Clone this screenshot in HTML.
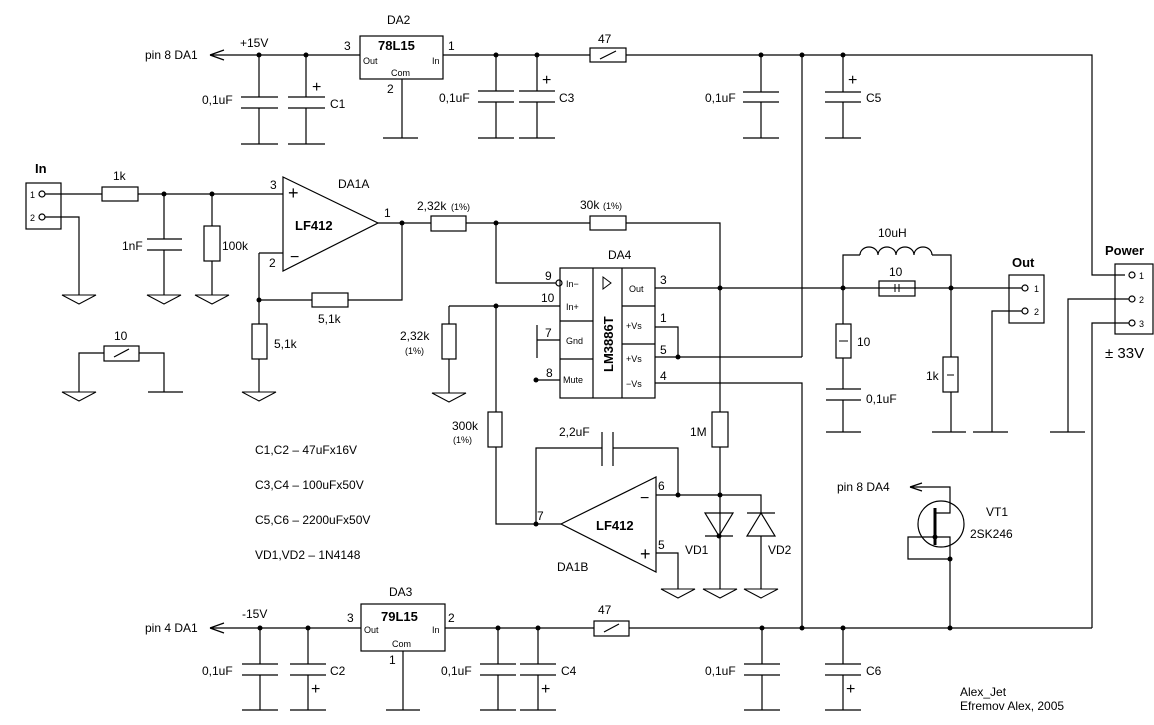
<!DOCTYPE html>
<html><head><meta charset="utf-8"><style>
html,body{margin:0;padding:0;background:#fff}
svg{display:block}
text{font-family:"Liberation Sans",sans-serif;font-size:12px;fill:#000}
.b{font-weight:bold;font-size:13px}
.s{font-size:9px}
</style></head><body>
<svg width="1154" height="725" viewBox="0 0 1154 725" xmlns="http://www.w3.org/2000/svg">
<defs>
<g id="gnd"><path d="M-17,0 H17 L0,9 Z" fill="none" stroke="#000"/></g>
<g id="dot"><circle r="2.5" fill="#000"/></g>
</defs>
<g stroke="#000" stroke-width="1.2" fill="none">
<path d="M210,55 H360 M443,55 H590 M626,55 H1092 V275 H1125"/>
<path d="M210,55 l14,-5 M210,55 l14,5"/>
<rect x="360" y="36" width="83" height="43"/>
<path d="M402,79 V138 M383,138 H418"/>
<path d="M259,55 V97 M241,97 H278 M241,108 H278 M259,108 V144 M241,144 H278"/>
<path d="M306,55 V97 M288,97 H325 M288,108 H325 M306,108 V144 M288,144 H325"/>
<path d="M496,55 V91 M478,91 H514 M478,102 H514 M496,102 V138 M478,138 H514"/>
<path d="M537,55 V91 M519,91 H555 M519,102 H555 M537,102 V138 M519,138 H555"/>
<path d="M761,55 V92 M743,92 H779 M743,102 H779 M761,102 V138 M743,138 H779"/>
<path d="M843,55 V92 M825,92 H861 M825,102 H861 M843,102 V138 M825,138 H861"/>
<rect x="590" y="48" width="36" height="14"/><path d="M600,59 L616,51"/>
<path d="M802,55 V357"/>
<rect x="26" y="183" width="35" height="46"/>
<circle cx="42" cy="194" r="3"/><circle cx="42" cy="217" r="3"/>
<path d="M45,194 H102 M138,194 H283 M45,217 H79 V295"/>
<rect x="102" y="187" width="36" height="14"/>
<path d="M164,194 V239 M147,239 H182 M147,250 H182 M164,250 V295"/>
<path d="M212,194 V226 M212,261 V295"/><rect x="204" y="226" width="16" height="35"/>
<path d="M283,177 L378,223 L283,271 Z"/>
<path d="M259,253 H283 M259,253 V324 M259,359 V392 M259,300 H312 M348,300 H402 V223 M378,223 H431 M466,223 H590 M626,223 H720 V412"/>
<rect x="252" y="324" width="15" height="35"/>
<rect x="312" y="293" width="36" height="14"/>
<rect x="431" y="216" width="35" height="15"/>
<rect x="590" y="216" width="36" height="14"/>
<rect x="560" y="268" width="95" height="130"/>
<path d="M593,268 V398 M622,268 V398 M560,321 H593 M560,359 H593 M622,306 H655 M622,344 H655"/>
<path d="M603,277 L611,283 L603,289 Z" stroke-width="1"/>
<path d="M496,223 V283 H556"/><circle cx="559" cy="283" r="3"/>
<path d="M449,306 H560 M449,306 V324 M449,359 V393 M496,306 V412 M496,447 V524 H561"/>
<rect x="442" y="324" width="14" height="35"/>
<rect x="488" y="412" width="14" height="35"/>
<path d="M537,340 H560 M537,325 V358 M536,380 H560"/>
<path d="M655,288 H1000 M655,327 H678 V357 M655,357 H802 M655,383 H802 V628"/>
<path d="M561,524 L656,477 L656,572 Z"/>
<path d="M536,524 V448 H602 M613,448 H678 V495 M602,432 V466 M613,432 V466 M656,495 H761 V513"/>
<path d="M656,553 H678 V589"/>
<path d="M720,447 V589 M761,536 V589"/>
<rect x="712" y="412" width="16" height="35"/>
<path d="M705,513 H733 L719,536 Z M705,536 H733"/>
<path d="M747,513 H775 M761,513 L747,536 H775 Z"/>
<path d="M843,288 V255 H860 M932,255 H951 V288 M843,288 V324 M843,358 V389 M826,389 H861 M826,400 H861 M843,400 V432 M826,432 H861"/>
<path d="M860,255 a9,8 0 0 1 18,0 a9,8 0 0 1 18,0 a9,8 0 0 1 18,0 a9,8 0 0 1 18,0"/>
<rect x="879" y="281" width="36" height="15"/><path d="M895,284 V292 M899,284 V292" stroke-width="1"/>
<rect x="836" y="324" width="15" height="34"/><path d="M839,341 H848" stroke-width="1"/>
<path d="M951,288 V357 M951,392 V432 M932,432 H966"/>
<rect x="943" y="357" width="15" height="35"/><path d="M947,375 H954" stroke-width="1"/>
<rect x="1009" y="275" width="35" height="48"/>
<path d="M1000,288 H1022 M1022,311 H992 V432 M973,432 H1008"/>
<circle cx="1025" cy="288" r="3"/><circle cx="1025" cy="311" r="3"/>
<rect x="1115" y="264" width="38" height="70"/>
<circle cx="1132" cy="275" r="3"/><circle cx="1132" cy="299" r="3"/><circle cx="1132" cy="323" r="3"/>
<path d="M1129,299 H1068 V432 M1050,432 H1085 M1129,323 H1092 V628"/>
<circle cx="941" cy="524" r="23"/>
<path d="M910,487 H950 V513 H935 M935,537 H950 V628 M935,537 H908 V559 H950"/>
<path d="M910,487 l12,-4 M910,487 l12,4"/>
<path d="M935,508 V545" stroke-width="3"/>
<path d="M210,628 H361 M445,628 H594 M629,628 H1092"/>
<path d="M210,628 l14,-5 M210,628 l14,5"/>
<rect x="361" y="604" width="84" height="47"/>
<path d="M403,651 V710 M386,710 H420"/>
<path d="M260,628 V664 M242,664 H278 M242,675 H278 M260,675 V710 M242,710 H278"/>
<path d="M308,628 V664 M290,664 H326 M290,675 H326 M308,675 V710 M290,710 H326"/>
<path d="M498,628 V664 M480,664 H516 M480,675 H516 M498,675 V710 M480,710 H516"/>
<path d="M538,628 V664 M520,664 H556 M520,675 H556 M538,675 V710 M520,710 H556"/>
<path d="M762,628 V664 M744,664 H780 M744,675 H780 M762,675 V710 M744,710 H780"/>
<path d="M843,628 V664 M825,664 H861 M825,675 H861 M843,675 V710 M825,710 H861"/>
<rect x="594" y="621" width="35" height="15"/><path d="M604,632 L619,624"/>
<rect x="104" y="346" width="35" height="15"/><path d="M114,357 L129,349"/>
<path d="M104,353 H79 V392 M139,353 H164 V392 M148,392 H183"/>
</g>
<g>
<use href="#gnd" x="79" y="295"/><use href="#gnd" x="164" y="295"/><use href="#gnd" x="212" y="295"/>
<use href="#gnd" x="79" y="392"/><use href="#gnd" x="259" y="392"/><use href="#gnd" x="449" y="393"/>
<use href="#gnd" x="678" y="589"/><use href="#gnd" x="720" y="589"/><use href="#gnd" x="761" y="589"/>
</g>
<g>
<use href="#dot" x="259" y="55"/><use href="#dot" x="306" y="55"/><use href="#dot" x="496" y="55"/><use href="#dot" x="537" y="55"/>
<use href="#dot" x="761" y="55"/><use href="#dot" x="802" y="55"/><use href="#dot" x="843" y="55"/>
<use href="#dot" x="164" y="194"/><use href="#dot" x="212" y="194"/><use href="#dot" x="402" y="223"/><use href="#dot" x="496" y="223"/>
<use href="#dot" x="259" y="300"/><use href="#dot" x="496" y="306"/><use href="#dot" x="536" y="380"/>
<use href="#dot" x="720" y="288"/><use href="#dot" x="843" y="288"/><use href="#dot" x="951" y="288"/><use href="#dot" x="678" y="357"/>
<use href="#dot" x="536" y="524"/><use href="#dot" x="678" y="495"/><use href="#dot" x="720" y="495"/>
<use href="#dot" x="950" y="559"/><use href="#dot" x="950" y="628"/>
<use href="#dot" x="260" y="628"/><use href="#dot" x="308" y="628"/><use href="#dot" x="498" y="628"/><use href="#dot" x="538" y="628"/>
<use href="#dot" x="762" y="628"/><use href="#dot" x="802" y="628"/><use href="#dot" x="843" y="628"/>
<use href="#dot" x="719" y="536"/><use href="#dot" x="935" y="537"/>
</g>
<text x="145" y="59">pin 8 DA1</text>
<text x="240" y="47">+15V</text>
<text x="387" y="24">DA2</text>
<text x="344" y="50">3</text><text x="448" y="50">1</text><text x="387" y="93">2</text>
<text x="378" y="50" class="b">78L15</text>
<text x="363" y="64" class="s">Out</text><text x="432" y="64" class="s">In</text><text x="391" y="76" class="s">Com</text>
<text x="202" y="104">0,1uF</text><text x="330" y="108">C1</text><text x="312" y="92" style="font-size:16px">+</text>
<text x="439" y="102">0,1uF</text><text x="559" y="102">C3</text><text x="542" y="85" style="font-size:16px">+</text>
<text x="705" y="102">0,1uF</text><text x="866" y="102">C5</text><text x="848" y="85" style="font-size:16px">+</text>
<text x="35" y="173" class="b">In</text>
<text x="30" y="198" class="s">1</text><text x="30" y="221" class="s">2</text>
<text x="113" y="180">1k</text>
<text x="114" y="340">10</text>
<text x="122" y="250">1nF</text><text x="222" y="250">100k</text>
<text x="338" y="188">DA1A</text>
<text x="270" y="189">3</text><text x="269" y="267">2</text><text x="384" y="217">1</text>
<text x="288" y="199" style="font-size:18px">+</text><text x="290" y="262" style="font-size:16px">−</text>
<text x="295" y="230" class="b">LF412</text>
<text x="318" y="323">5,1k</text><text x="274" y="348">5,1k</text>
<text x="417" y="210">2,32k</text><text x="451" y="210" class="s">(1%)</text>
<text x="580" y="209">30k</text><text x="603" y="209" class="s">(1%)</text>
<text x="608" y="259">DA4</text>
<text x="545" y="280">9</text><text x="541" y="302">10</text><text x="545" y="337">7</text><text x="546" y="377">8</text>
<text x="566" y="287" class="s">In−</text><text x="566" y="310" class="s">In+</text><text x="566" y="344" class="s">Gnd</text><text x="563" y="383" class="s">Mute</text>
<text x="629" y="292" class="s">Out</text><text x="626" y="329" class="s">+Vs</text><text x="626" y="362" class="s">+Vs</text><text x="626" y="387" class="s">−Vs</text>
<text x="660" y="284">3</text><text x="660" y="322">1</text><text x="660" y="354">5</text><text x="660" y="380">4</text>
<text x="0" y="0" class="b" transform="translate(613,372) rotate(-90)">LM3886T</text>
<text x="400" y="340">2,32k</text><text x="405" y="354" class="s">(1%)</text>
<text x="452" y="430">300k</text><text x="453" y="443" class="s">(1%)</text>
<text x="559" y="436">2,2uF</text><text x="690" y="436">1M</text>
<text x="537" y="520">7</text><text x="658" y="490">6</text><text x="658" y="549">5</text>
<text x="640" y="503" style="font-size:16px">−</text><text x="640" y="560" style="font-size:18px">+</text>
<text x="596" y="530" class="b">LF412</text>
<text x="557" y="571">DA1B</text>
<text x="685" y="554">VD1</text><text x="768" y="554">VD2</text>
<text x="878" y="237">10uH</text><text x="889" y="276">10</text><text x="857" y="346">10</text>
<text x="866" y="403">0,1uF</text><text x="926" y="380">1k</text>
<text x="1012" y="267" class="b">Out</text><text x="1034" y="292" class="s">1</text><text x="1034" y="315" class="s">2</text>
<text x="1105" y="255" class="b">Power</text>
<text x="1139" y="279" class="s">1</text><text x="1139" y="303" class="s">2</text><text x="1139" y="327" class="s">3</text>
<text x="1105" y="358" style="font-size:15px">± 33V</text>
<text x="837" y="491">pin 8 DA4</text>
<text x="986" y="516">VT1</text><text x="970" y="538">2SK246</text>
<text x="255" y="454">C1,C2 – 47uFx16V</text>
<text x="255" y="489">C3,C4 – 100uFx50V</text>
<text x="255" y="524">C5,C6 – 2200uFx50V</text>
<text x="255" y="559">VD1,VD2 – 1N4148</text>
<text x="145" y="632">pin 4 DA1</text>
<text x="242" y="618">-15V</text>
<text x="389" y="596">DA3</text>
<text x="347" y="622">3</text><text x="448" y="622">2</text><text x="389" y="664">1</text>
<text x="381" y="621" class="b">79L15</text>
<text x="364" y="633" class="s">Out</text><text x="432" y="633" class="s">In</text><text x="392" y="647" class="s">Com</text>
<text x="202" y="675">0,1uF</text><text x="330" y="675">C2</text><text x="311" y="694" style="font-size:16px">+</text>
<text x="441" y="675">0,1uF</text><text x="561" y="675">C4</text><text x="541" y="694" style="font-size:16px">+</text>
<text x="705" y="675">0,1uF</text><text x="866" y="675">C6</text><text x="846" y="694" style="font-size:16px">+</text>
<text x="598" y="614">47</text><text x="598" y="43">47</text>
<text x="960" y="696">Alex_Jet</text>
<text x="960" y="710">Efremov Alex, 2005</text>
</svg>
</body></html>
